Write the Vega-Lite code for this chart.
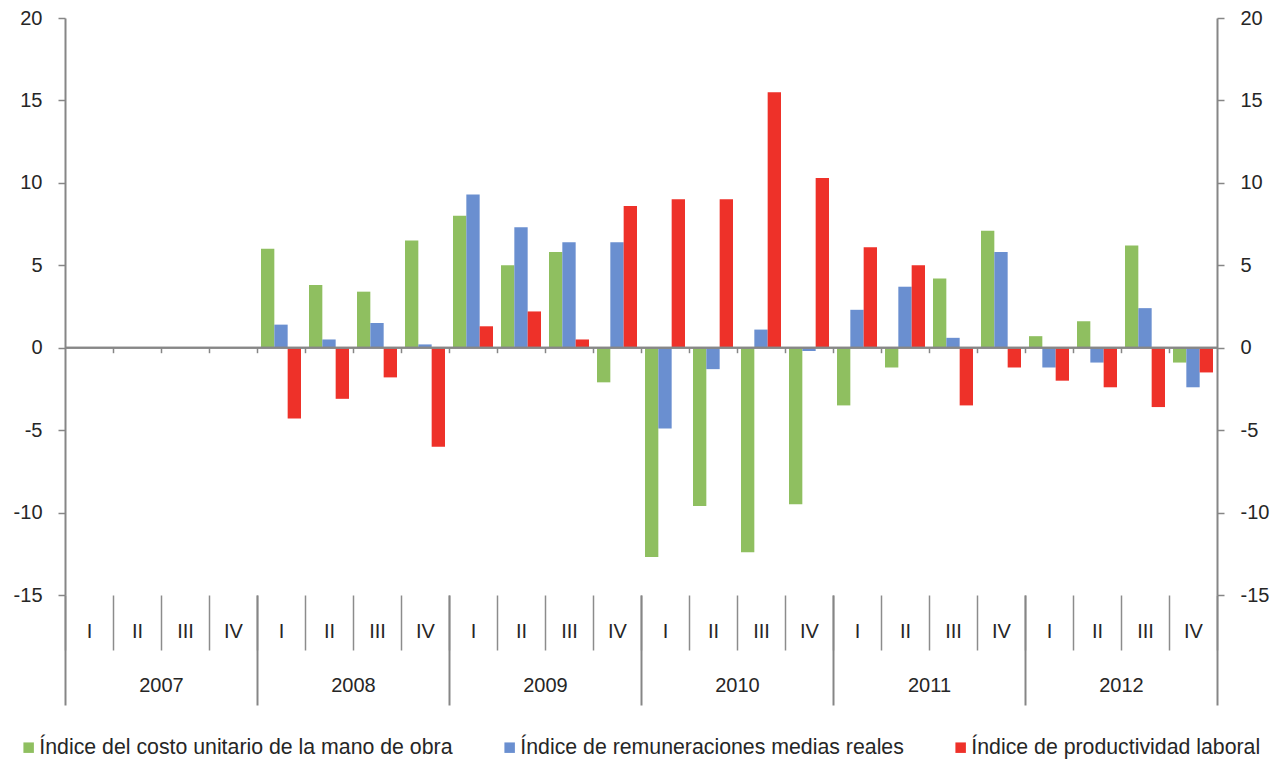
{
  "$schema": "https://vega.github.io/schema/vega-lite/v6.json",
  "width": 1152,
  "height": 577,
  "autosize": {"type": "none"},
  "padding": {"left": 65, "top": 18, "right": 64, "bottom": 164},
  "background": "white",
  "config": {
    "view": {"stroke": null},
    "font": "Liberation Sans",
    "axis": {"labelFont": "Liberation Sans", "labelFontSize": 20, "labelColor": "#262626", "grid": false, "title": null}
  },
  "layer": [
    {
      "data": {"values": [
        {"q": "2008-I", "s": "Índice del costo unitario de la mano de obra", "v": 6.0},
        {"q": "2008-I", "s": "Índice de remuneraciones medias reales", "v": 1.4},
        {"q": "2008-I", "s": "Índice de productividad laboral", "v": -4.3},
        {"q": "2008-II", "s": "Índice del costo unitario de la mano de obra", "v": 3.8},
        {"q": "2008-II", "s": "Índice de remuneraciones medias reales", "v": 0.5},
        {"q": "2008-II", "s": "Índice de productividad laboral", "v": -3.1},
        {"q": "2008-III", "s": "Índice del costo unitario de la mano de obra", "v": 3.4},
        {"q": "2008-III", "s": "Índice de remuneraciones medias reales", "v": 1.5},
        {"q": "2008-III", "s": "Índice de productividad laboral", "v": -1.8},
        {"q": "2008-IV", "s": "Índice del costo unitario de la mano de obra", "v": 6.5},
        {"q": "2008-IV", "s": "Índice de remuneraciones medias reales", "v": 0.2},
        {"q": "2008-IV", "s": "Índice de productividad laboral", "v": -6.0},
        {"q": "2009-I", "s": "Índice del costo unitario de la mano de obra", "v": 8.0},
        {"q": "2009-I", "s": "Índice de remuneraciones medias reales", "v": 9.3},
        {"q": "2009-I", "s": "Índice de productividad laboral", "v": 1.3},
        {"q": "2009-II", "s": "Índice del costo unitario de la mano de obra", "v": 5.0},
        {"q": "2009-II", "s": "Índice de remuneraciones medias reales", "v": 7.3},
        {"q": "2009-II", "s": "Índice de productividad laboral", "v": 2.2},
        {"q": "2009-III", "s": "Índice del costo unitario de la mano de obra", "v": 5.8},
        {"q": "2009-III", "s": "Índice de remuneraciones medias reales", "v": 6.4},
        {"q": "2009-III", "s": "Índice de productividad laboral", "v": 0.5},
        {"q": "2009-IV", "s": "Índice del costo unitario de la mano de obra", "v": -2.1},
        {"q": "2009-IV", "s": "Índice de remuneraciones medias reales", "v": 6.4},
        {"q": "2009-IV", "s": "Índice de productividad laboral", "v": 8.6},
        {"q": "2010-I", "s": "Índice del costo unitario de la mano de obra", "v": -12.7},
        {"q": "2010-I", "s": "Índice de remuneraciones medias reales", "v": -4.9},
        {"q": "2010-I", "s": "Índice de productividad laboral", "v": 9.0},
        {"q": "2010-II", "s": "Índice del costo unitario de la mano de obra", "v": -9.6},
        {"q": "2010-II", "s": "Índice de remuneraciones medias reales", "v": -1.3},
        {"q": "2010-II", "s": "Índice de productividad laboral", "v": 9.0},
        {"q": "2010-III", "s": "Índice del costo unitario de la mano de obra", "v": -12.4},
        {"q": "2010-III", "s": "Índice de remuneraciones medias reales", "v": 1.1},
        {"q": "2010-III", "s": "Índice de productividad laboral", "v": 15.5},
        {"q": "2010-IV", "s": "Índice del costo unitario de la mano de obra", "v": -9.5},
        {"q": "2010-IV", "s": "Índice de remuneraciones medias reales", "v": -0.2},
        {"q": "2010-IV", "s": "Índice de productividad laboral", "v": 10.3},
        {"q": "2011-I", "s": "Índice del costo unitario de la mano de obra", "v": -3.5},
        {"q": "2011-I", "s": "Índice de remuneraciones medias reales", "v": 2.3},
        {"q": "2011-I", "s": "Índice de productividad laboral", "v": 6.1},
        {"q": "2011-II", "s": "Índice del costo unitario de la mano de obra", "v": -1.2},
        {"q": "2011-II", "s": "Índice de remuneraciones medias reales", "v": 3.7},
        {"q": "2011-II", "s": "Índice de productividad laboral", "v": 5.0},
        {"q": "2011-III", "s": "Índice del costo unitario de la mano de obra", "v": 4.2},
        {"q": "2011-III", "s": "Índice de remuneraciones medias reales", "v": 0.6},
        {"q": "2011-III", "s": "Índice de productividad laboral", "v": -3.5},
        {"q": "2011-IV", "s": "Índice del costo unitario de la mano de obra", "v": 7.1},
        {"q": "2011-IV", "s": "Índice de remuneraciones medias reales", "v": 5.8},
        {"q": "2011-IV", "s": "Índice de productividad laboral", "v": -1.2},
        {"q": "2012-I", "s": "Índice del costo unitario de la mano de obra", "v": 0.7},
        {"q": "2012-I", "s": "Índice de remuneraciones medias reales", "v": -1.2},
        {"q": "2012-I", "s": "Índice de productividad laboral", "v": -2.0},
        {"q": "2012-II", "s": "Índice del costo unitario de la mano de obra", "v": 1.6},
        {"q": "2012-II", "s": "Índice de remuneraciones medias reales", "v": -0.9},
        {"q": "2012-II", "s": "Índice de productividad laboral", "v": -2.4},
        {"q": "2012-III", "s": "Índice del costo unitario de la mano de obra", "v": 6.2},
        {"q": "2012-III", "s": "Índice de remuneraciones medias reales", "v": 2.4},
        {"q": "2012-III", "s": "Índice de productividad laboral", "v": -3.6},
        {"q": "2012-IV", "s": "Índice del costo unitario de la mano de obra", "v": -0.9},
        {"q": "2012-IV", "s": "Índice de remuneraciones medias reales", "v": -2.4},
        {"q": "2012-IV", "s": "Índice de productividad laboral", "v": -1.5}
      ]},
      "mark": {"type": "bar"},
      "encoding": {
        "x": {
          "field": "q", "type": "nominal",
          "scale": {"domain": ["2007-I","2007-II","2007-III","2007-IV","2008-I","2008-II","2008-III","2008-IV","2009-I","2009-II","2009-III","2009-IV","2010-I","2010-II","2010-III","2010-IV","2011-I","2011-II","2011-III","2011-IV","2012-I","2012-II","2012-III","2012-IV"], "paddingInner": 0, "paddingOuter": 0},
          "axis": {"orient": "bottom", "labelExpr": "isString(datum.value) ? slice(datum.value, 5) : ''", "tickBand": "extent", "tickSize": 55, "tickColor": "#8c8c8c", "tickWidth": 1.5, "domain": false, "labelPadding": -19, "labelBaseline": "middle", "labelAngle": 0}
        },
        "xOffset": {
          "field": "s", "type": "nominal",
          "scale": {"domain": ["Índice del costo unitario de la mano de obra", "Índice de remuneraciones medias reales", "Índice de productividad laboral"], "paddingInner": 0, "paddingOuter": 0.3}
        },
        "y": {
          "field": "v", "type": "quantitative",
          "scale": {"domain": [-15, 20], "nice": false, "zero": false},
          "axis": {"orient": "left", "values": [-15, -10, -5, 0, 5, 10, 15, 20], "labelExpr": "'' + datum.value", "tickSize": 7, "tickColor": "#868686", "tickWidth": 1.5, "domainColor": "#868686", "domainWidth": 2, "labelPadding": 16}
        },
        "color": {
          "field": "s", "type": "nominal",
          "scale": {"domain": ["Índice del costo unitario de la mano de obra", "Índice de remuneraciones medias reales", "Índice de productividad laboral"], "range": ["#8fbf60", "#6a8fd0", "#ee3129"]},
          "legend": {"orient": "none", "legendX": -47, "legendY": 719, "direction": "horizontal", "title": null, "symbolType": "square", "symbolSize": 110, "symbolStrokeWidth": 0, "labelFontSize": 21.3, "labelFont": "Liberation Sans", "labelColor": "#262626", "labelOffset": 0, "columnPadding": 46, "padding": 0, "labelLimit": 600}
        }
      }
    },
    {
      "data": {"values": [{}]},
      "mark": {"type": "rule", "color": "#878787", "strokeWidth": 2},
      "encoding": {
        "x": {
          "datum": 2007, "type": "quantitative",
          "scale": {"domain": [2007, 2013], "nice": false, "zero": false},
          "axis": {"orient": "bottom", "values": [2007, 2008, 2009, 2010, 2011, 2012, 2013], "labelExpr": "datum.value == 2013 ? '' : '' + datum.value", "labelOffset": 96, "labelFlush": false, "labelOverlap": false, "tickSize": 110, "tickColor": "#868686", "tickWidth": 2, "domain": false, "labelPadding": -20, "labelBaseline": "middle", "labelAngle": 0}
        },
        "x2": {"datum": 2013},
        "y": {
          "datum": 0, "type": "quantitative",
          "scale": {"domain": [-15, 20], "nice": false, "zero": false},
          "axis": {"orient": "right", "values": [-15, -10, -5, 0, 5, 10, 15, 20], "labelExpr": "'' + datum.value", "tickSize": 7, "tickColor": "#868686", "tickWidth": 1.5, "domainColor": "#868686", "domainWidth": 2, "labelPadding": 16}
        }
      }
    },
    {
      "data": {"values": [{}]},
      "mark": {"type": "rule", "color": "#878787", "strokeWidth": 2},
      "encoding": {
        "x": {
          "datum": 0, "type": "quantitative",
          "scale": {"domain": [0, 24], "nice": false, "zero": false},
          "axis": {"orient": "bottom", "values": [1,2,3,4,5,6,7,8,9,10,11,12,13,14,15,16,17,18,19,20,21,22,23], "labels": false, "domain": false, "tickSize": 5, "tickColor": "#868686", "tickWidth": 1.5, "offset": -247.3}
        },
        "x2": {"datum": 24},
        "y": {
          "datum": 0, "type": "quantitative",
          "scale": {"domain": [-15, 20], "nice": false, "zero": false},
          "axis": null
        }
      }
    }
  ],
  "resolve": {"scale": {"x": "independent", "y": "independent"}, "axis": {"x": "independent", "y": "independent"}}
}
